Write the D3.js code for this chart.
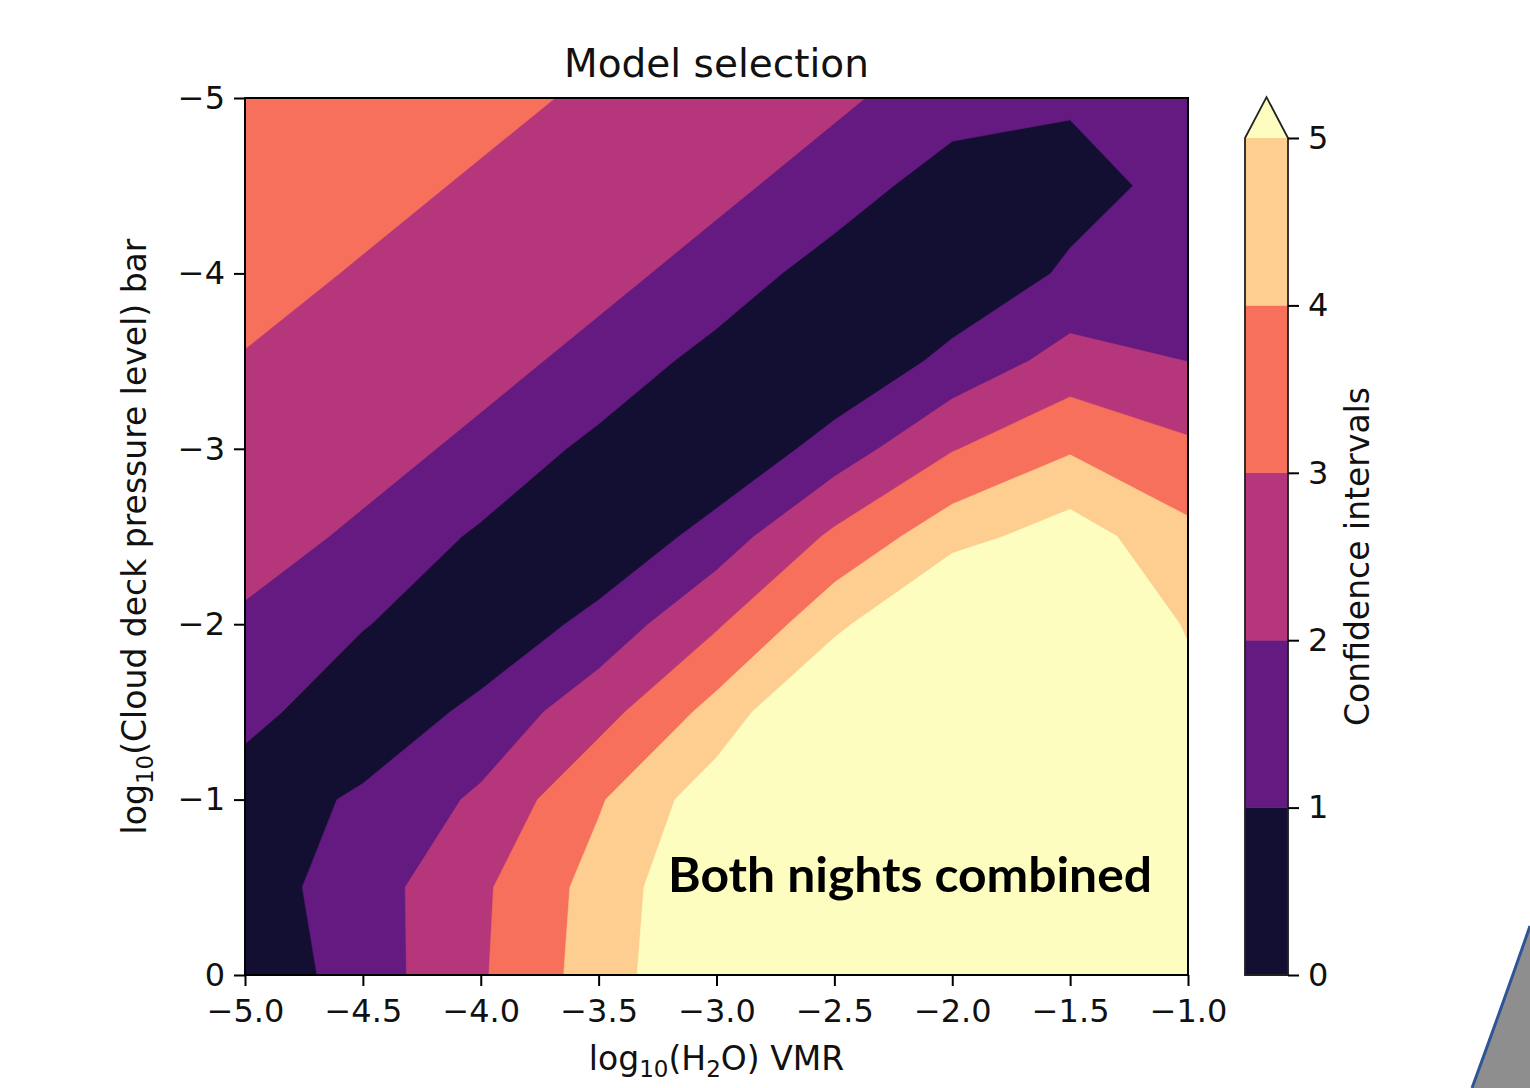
<!DOCTYPE html>
<html><head><meta charset="utf-8">
<script src="https://cdn.jsdelivr.net/npm/d3@7"></script>
<style>body{margin:0;background:#fff;} svg{display:block;}</style>
</head><body>
<svg id="chart" width="1530" height="1088"></svg>
<script>
// ---- data ----
const xValues = [-5.0, -4.5, -4.0, -3.5, -3.0, -2.5, -2.0, -1.5, -1.0];   // log10(H2O) VMR grid
const yValues = [0, -0.5, -1.0, -1.5, -2.0, -2.5, -3.0, -3.5, -4.0, -4.5, -5.0]; // log10 cloud deck pressure grid
// confidence (sigma) values, one row per yValues entry
const zRows = [
  [0.252, 1.478, 2.891, 4.467, 6.10, 7.50, 8.50, 9.00, 7.50],
  [0.496, 1.533, 2.833, 4.377, 6.00, 7.30, 8.30, 8.80, 6.90],
  [0.305, 1.196, 2.164, 3.900, 5.60, 6.90, 8.00, 8.50, 6.20],
  [1.400, 0.131, 1.306, 2.610, 4.35, 6.50, 7.80, 8.00, 5.54],
  [1.900, 1.070, 0.100, 1.364, 2.879, 4.729, 6.60, 6.90, 4.86],
  [2.270, 1.891, 0.830, 0.050, 1.448, 3.194, 4.62, 5.50, 4.25],
  [2.610, 2.234, 1.858, 0.676, 0.050, 1.446, 2.94, 3.89, 3.18],
  [2.960, 2.750, 2.200, 1.824, 0.537, 0.083, 1.29, 2.386, 1.99],
  [3.250, 2.938, 2.700, 2.166, 1.790, 0.369, 0.17, 1.163, 1.60],
  [3.540, 3.222, 2.911, 2.600, 2.132, 1.757, 0.255, 0.600, 1.35],
  [3.830, 3.480, 3.196, 2.885, 2.480, 2.098, 1.724, 1.133, 1.50]
];
const levels = [0, 1, 2, 3, 4, 5];
const levelColors = ["#130f33", "#641a80", "#b5367a", "#f6705c", "#fecd90", "#fcfdbf"];
const xTicks = [-5.0, -4.5, -4.0, -3.5, -3.0, -2.5, -2.0, -1.5, -1.0];
const yTicks = [-5, -4, -3, -2, -1, 0];
const cbarTicks = [0, 1, 2, 3, 4, 5];

// ---- layout ----
const svg = d3.select("#chart");
const FONT = "'DejaVu Sans', sans-serif";
const x = d3.scaleLinear().domain([-5, -1]).range([245, 1188]);
const y = d3.scaleLinear().domain([-5, 0]).range([98, 975]);

const nx = xValues.length, ny = yValues.length;
const gx = d3.scaleLinear().domain([0.5, nx - 0.5]).range([xValues[0], xValues[nx - 1]]);
const gy = d3.scaleLinear().domain([0.5, ny - 0.5]).range([yValues[0], yValues[ny - 1]]);
const proj = d3.geoTransform({point(px, py) { this.stream.point(x(gx(px)), y(gy(py))); }});
const path = d3.geoPath(proj);
const contours = d3.contours().size([nx, ny]).thresholds(levels)(zRows.flat());

svg.append("defs").append("clipPath").attr("id", "plotclip").append("rect")
  .attr("x", x(-5)).attr("y", y(-5)).attr("width", x(-1) - x(-5)).attr("height", y(0) - y(-5));

svg.append("g").attr("clip-path", "url(#plotclip)")
  .selectAll("path").data(contours).join("path")
  .attr("d", path)
  .attr("fill", (d, i) => levelColors[i])
  .attr("stroke", (d, i) => levelColors[i]).attr("stroke-width", 0.6);

// frame
svg.append("rect").attr("x", x(-5)).attr("y", y(-5))
  .attr("width", x(-1) - x(-5)).attr("height", y(0) - y(-5))
  .attr("fill", "none").attr("stroke", "#000").attr("stroke-width", 2);

// axes
const fmtX = d3.format(".1f");
const fmtY = d3.format("d");
const gxAxis = svg.append("g").attr("transform", `translate(0,${y(0)})`)
  .call(d3.axisBottom(x).tickValues(xTicks).tickFormat(fmtX).tickSize(11).tickPadding(13));
const gyAxis = svg.append("g").attr("transform", `translate(${x(-5)},0)`)
  .call(d3.axisLeft(y).tickValues(yTicks).tickFormat(fmtY).tickSize(11).tickPadding(9));
[gxAxis, gyAxis].forEach(g => {
  g.select(".domain").remove();
  g.selectAll(".tick line").attr("stroke", "#000").attr("stroke-width", 2);
  g.selectAll(".tick text").attr("font-family", FONT).attr("font-size", 32).attr("fill", "#111");
});

// title
svg.append("text").attr("x", (x(-5) + x(-1)) / 2).attr("y", 77)
  .attr("text-anchor", "middle").attr("font-family", FONT).attr("font-size", 39)
  .attr("fill", "#111").text("Model selection");

// axis labels with subscripts
function subLabel(sel, parts) {
  parts.forEach(p => {
    const t = sel.append("tspan").text(p.t);
    if (p.sub) t.attr("font-size", 23).attr("dy", 7);
    else if (p.after) t.attr("dy", -7);
  });
}
const xl = svg.append("text").attr("x", (x(-5) + x(-1)) / 2).attr("y", 1070)
  .attr("text-anchor", "middle").attr("font-family", FONT).attr("font-size", 33).attr("fill", "#111");
subLabel(xl, [{t: "log"}, {t: "10", sub: true}, {t: "(H", after: true}, {t: "2", sub: true}, {t: "O) VMR", after: true}]);

const yl = svg.append("text").attr("transform", `translate(146,${(y(-5) + y(0)) / 2}) rotate(-90)`)
  .attr("text-anchor", "middle").attr("font-family", FONT).attr("font-size", 33).attr("fill", "#111");
subLabel(yl, [{t: "log"}, {t: "10", sub: true}, {t: "(Cloud deck pressure level) bar", after: true}]);

// annotation
svg.append("text").attr("x", 668).attr("y", 892)
  .attr("font-family", "Lato, 'Open Sans', sans-serif").attr("font-weight", 700)
  .attr("font-size", 48).attr("fill", "#000")
  .attr("textLength", 484).attr("lengthAdjust", "spacingAndGlyphs")
  .text("Both nights combined");

// colorbar
const cb0 = 1245, cb1 = 1288;
const cy = d3.scaleLinear().domain([0, 5]).range([975, 138]);
const cbar = svg.append("g");
cbar.selectAll("rect").data(levels.slice(0, -1)).join("rect")
  .attr("x", cb0).attr("width", cb1 - cb0)
  .attr("y", (d, i) => cy(levels[i + 1])).attr("height", (d, i) => cy(levels[i]) - cy(levels[i + 1]))
  .attr("fill", (d, i) => levelColors[i]).attr("stroke", (d, i) => levelColors[i]).attr("stroke-width", 0.5);
const apexY = cy(5) - (cb1 - cb0) * 0.95;
cbar.append("path")
  .attr("d", `M${cb0},${cy(5)} L${(cb0 + cb1) / 2},${apexY} L${cb1},${cy(5)} Z`)
  .attr("fill", levelColors[5]);
cbar.append("path")
  .attr("d", `M${cb0},${cy(0)} L${cb0},${cy(5)} L${(cb0 + cb1) / 2},${apexY} L${cb1},${cy(5)} L${cb1},${cy(0)} Z`)
  .attr("fill", "none").attr("stroke", "#222").attr("stroke-width", 1.8);
const gc = svg.append("g").attr("transform", `translate(${cb1},0)`)
  .call(d3.axisRight(cy).tickValues(cbarTicks).tickFormat(fmtY).tickSize(11).tickPadding(9));
gc.select(".domain").remove();
gc.selectAll(".tick line").attr("stroke", "#000").attr("stroke-width", 2);
gc.selectAll(".tick text").attr("font-family", FONT).attr("font-size", 32).attr("fill", "#111");
svg.append("text").attr("transform", `translate(1369,${(cy(0) + cy(5)) / 2}) rotate(-90)`)
  .attr("text-anchor", "middle").attr("font-family", FONT).attr("font-size", 33).attr("fill", "#111")
  .text("Confidence intervals");

// slide decoration (bottom-right corner)
svg.append("path").attr("d", "M1472,1088 Q1500,1012 1530,926 L1530,1088 Z")
  .attr("fill", "#8e8e8e").attr("stroke", "none");
svg.append("path").attr("d", "M1472,1088 Q1500,1012 1530,926")
  .attr("fill", "none").attr("stroke", "#2f5597").attr("stroke-width", 3);
</script>
</body></html>
